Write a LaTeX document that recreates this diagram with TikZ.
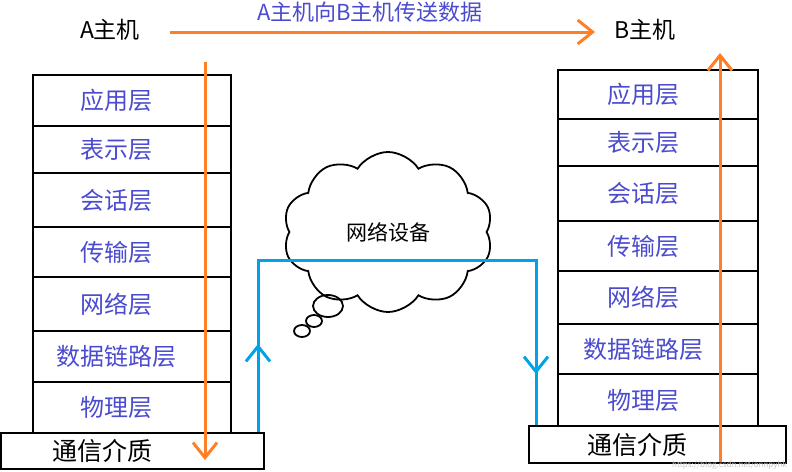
\documentclass[tikz,border=0pt]{standalone}
\usepackage{fontspec}
\setmainfont{Noto Sans CJK SC}
\usetikzlibrary{arrows.meta,shapes.symbols}
\definecolor{lbl}{HTML}{4B4BD0}
\definecolor{org}{HTML}{FF7F27}
\definecolor{blu}{HTML}{00A2E8}
\begin{document}
\begin{tikzpicture}[x=1pt,y=-1pt,
  layer/.style={draw,line width=2pt,minimum width=198pt,anchor=north west,inner sep=0pt,font=\fontsize{24}{24}\selectfont,text=lbl},
  base/.style={draw,line width=2pt,anchor=north west,inner sep=0pt,font=\fontsize{25}{25}\selectfont},
  oar/.style={draw=org,line width=3pt,-{Straight Barb[length=15pt,width=24pt,line width=3pt]}},
  bar/.style={draw=blu,line width=3pt,-{Straight Barb[length=15pt,width=24pt,line width=3pt]}}]
\useasboundingbox (0,0) rectangle (792,471);
% left stack
\foreach \t/\a/\b [count=\i] in {应用层/74/125,表示层/125/172,会话层/172/226,传输层/226/276,网络层/276/330,数据链路层/330/381,物理层/381/432}{
  \node[layer,minimum height={\b-\a}] (L\i) at (32,\a) {\t\hspace*{32pt}};}
\node[base,minimum width=263pt,minimum height=36pt] (LB) at (0,432) {\hspace*{-60pt}通信介质};
% right stack
\foreach \t/\a/\b [count=\i] in {应用层/69/118,表示层/118/165,会话层/165/220,传输层/220/270,网络层/270/323,数据链路层/323/373,物理层/373/425}{
  \node[layer,minimum width=200pt,minimum height={\b-\a}] (R\i) at (557,\a) {\t\hspace*{30pt}};}
\node[base,minimum width=257pt,minimum height=37pt] (RB) at (528,425) {\hspace*{-40pt}通信介质};
% titles
\node[font=\fontsize{23}{23}\selectfont] (A) at (110,30) {A主机};
\node[font=\fontsize{23}{23}\selectfont] (B) at (645,30) {B主机};
\node[font=\fontsize{22}{22}\selectfont,text=lbl] (T) at (370,12) {A主机向B主机传送数据};
\draw[oar] (170,32) -- (595,32);
\coordinate (la) at (205,62); \coordinate (lb) at (205,460);
\draw[oar] (la) -- (lb);
\coordinate (ra) at (720,462); \coordinate (rb) at (720,53);
\draw[oar] (ra) -- (rb);
% cloud
\node[cloud,draw,line width=1.8pt,cloud puffs=10,cloud puff arc=115,aspect=1.35,minimum width=210pt,minimum height=160pt,font=\fontsize{21}{21}\selectfont] (C) at (388,232) {网络设备};
\draw[line width=1.8pt] (328,306) ellipse (15pt and 11pt);
\draw[line width=1.8pt] (314,321) ellipse (8pt and 6pt);
\draw[line width=1.8pt] (302,331) ellipse (8pt and 6pt);
% blue path
\coordinate (b1) at (258,432); \coordinate (b2) at (258,260);
\coordinate (b3) at (536,260); \coordinate (b4) at (536,425);
\draw[blu,line width=3pt] (b1) -- (b2) -- (b3) -- (b4);
\draw[bar] (258,390) -- (258,344);
\draw[bar] (536,340) -- (536,374);
\node[text=gray!45,font=\fontsize{8}{8}\selectfont,anchor=east,inner sep=1pt] (W) at (788,465) {https://blog.csdn.net/onnpyhk};
\end{tikzpicture}
\end{document}
